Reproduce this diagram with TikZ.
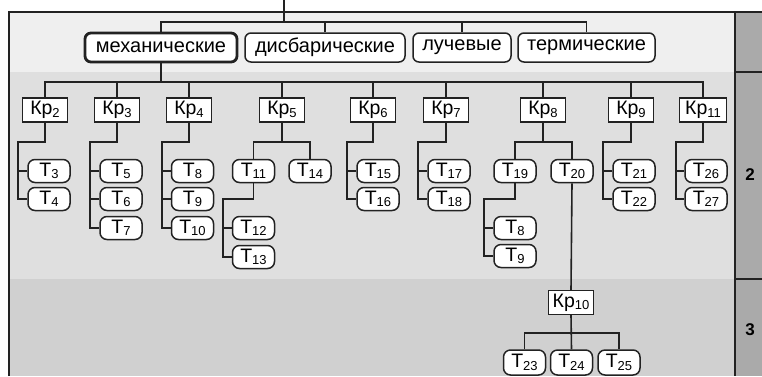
\documentclass[tikz,border=0pt]{standalone}
\usepackage{fontspec}
\setmainfont{Liberation Sans}
\usetikzlibrary{calc}
\newcommand\subs[1]{\raisebox{-2.5pt}{\fontsize{13}{13}\selectfont #1}}
\definecolor{bandA}{HTML}{EFEFEF}
\definecolor{bandB}{HTML}{DFDFDF}
\definecolor{bandC}{HTML}{D0D0D0}
\definecolor{colR}{HTML}{AAAAAA}
\definecolor{ink}{HTML}{222222}
\tikzset{
  cat/.style={draw=ink, rounded corners=6pt, fill=white, line width=1.5pt, minimum height=29pt, inner xsep=2pt, inner ysep=1pt, font=\fontsize{20}{22}\selectfont},
  kp/.style={draw=ink, fill=white, line width=1.3pt, minimum height=24pt, minimum width=45pt, inner sep=1pt, font=\fontsize{19.5}{21}\selectfont},
  tn/.style={draw=ink, fill=white, rounded corners=7pt, line width=1.5pt, minimum height=23pt, minimum width=42pt, inner sep=1pt, font=\fontsize{19.5}{21}\selectfont},
  con/.style={line width=1.6pt, draw=ink},
  frame/.style={line width=1.6pt, draw=ink},
  lvl/.style={font=\fontsize{17}{19}\selectfont\bfseries},
}
\begin{document}
\begin{tikzpicture}[x=1pt,y=-1pt]
\useasboundingbox (0,0) rectangle (762,376);
% background bands
\fill[bandA] (9,12) rectangle (735,72);
\fill[bandB] (9,72) rectangle (735,279);
\fill[bandC] (9,279) rectangle (735,376);
\fill[colR] (735,12) rectangle (762,376);
\draw[frame] (9,376) -- (9,12) -- (762,12);
\draw[frame] (735,12) -- (735,376);
\draw[frame] (735,72) -- (762,72);
\draw[frame] (735,279) -- (762,279);
\node[lvl] (l2) at (750,175) {2};
\node[lvl] (l3) at (750,330) {3};

% level 1 categories
\node[cat, line width=2.8pt, minimum width=152pt] (mech) at (161,47.5) {механические};
\node[cat, minimum width=160pt] (disb) at (325,47.5) {дисбарические};
\node[cat, minimum width=98pt] (luch) at (462,47.5) {лучевые};
\node[cat, minimum width=137pt] (term) at (586.5,47.5) {термические};

% Kp nodes
\node[kp] (kp2) at (45,110) {Кр\subs{2}};
\node[kp] (kp3) at (117,110) {Кр\subs{3}};
\node[kp] (kp4) at (189,110) {Кр\subs{4}};
\node[kp] (kp5) at (282,110) {Кр\subs{5}};
\node[kp] (kp6) at (373,110) {Кр\subs{6}};
\node[kp] (kp7) at (446,110) {Кр\subs{7}};
\node[kp] (kp8) at (543,110) {Кр\subs{8}};
\node[kp] (kp9) at (631,110) {Кр\subs{9}};
\node[kp, minimum width=47pt] (kp11) at (703,110) {Кр\subs{11}};
\node[kp] (kp10) at (571,302.5) {Кр\subs{10}};

% T nodes
\node[tn] (t3) at (49,171) {Т\subs{3}};
\node[tn] (t4) at (49,199) {Т\subs{4}};
\node[tn] (t5) at (121,171) {Т\subs{5}};
\node[tn] (t6) at (121,199) {Т\subs{6}};
\node[tn] (t7) at (121,228) {Т\subs{7}};
\node[tn] (t8a) at (192.5,171) {Т\subs{8}};
\node[tn] (t9a) at (192.5,199) {Т\subs{9}};
\node[tn] (t10) at (192.5,228) {Т\subs{10}};
\node[tn] (t11) at (253.5,171) {Т\subs{11}};
\node[tn] (t14) at (310,171) {Т\subs{14}};
\node[tn] (t12) at (253.5,228) {Т\subs{12}};
\node[tn] (t13) at (253.5,257) {Т\subs{13}};
\node[tn] (t15) at (378,171) {Т\subs{15}};
\node[tn] (t16) at (378,199) {Т\subs{16}};
\node[tn] (t17) at (449,171) {Т\subs{17}};
\node[tn] (t18) at (449,199) {Т\subs{18}};
\node[tn] (t19) at (515,171) {Т\subs{19}};
\node[tn] (t20) at (572,171) {Т\subs{20}};
\node[tn] (t8b) at (515,228) {Т\subs{8}};
\node[tn] (t9b) at (515,256) {Т\subs{9}};
\node[tn] (t21) at (634,171) {Т\subs{21}};
\node[tn] (t22) at (634,199) {Т\subs{22}};
\node[tn] (t26) at (706,171) {Т\subs{26}};
\node[tn] (t27) at (706,199) {Т\subs{27}};
\node[tn, minimum height=25pt] (t23) at (524.5,362.5) {Т\subs{23}};
\node[tn, minimum height=25pt] (t24) at (571.5,362.5) {Т\subs{24}};
\node[tn, minimum height=25pt] (t25) at (619,362.5) {Т\subs{25}};

% connectors level 0 -> 1
\coordinate (top) at (284,0);
\coordinate (b1) at (284,22);
\draw[con] (top) -- (b1);
\draw[con] (mech.north) |- (b1) -| (term.north);
\draw[con] (disb.north) -- (disb.north |- b1);
\draw[con] (luch.north) -- (luch.north |- b1);

% level 1 -> Kp
\coordinate (b2) at (161,82);
\draw[con] (mech.south) -- (b2);
\draw[con] (kp2.north) |- (b2) -| (kp11.north);
\foreach \k in {kp3,kp4,kp5,kp6,kp7,kp8,kp9}
  \draw[con] (\k.north) -- (\k.north |- b2);

% Kp -> T rails
\coordinate (r2) at (18,142);
\draw[con] (kp2.south) |- (r2) |- (t4.west);
\draw[con] (r2 |- t3.west) -- (t3.west);

\coordinate (r3) at (90,142);
\draw[con] (kp3.south) |- (r3) |- (t7.west);
\draw[con] (r3 |- t5.west) -- (t5.west);
\draw[con] (r3 |- t6.west) -- (t6.west);

\coordinate (r4) at (162,142);
\draw[con] (kp4.south) |- (r4) |- (t10.west);
\draw[con] (r4 |- t8a.west) -- (t8a.west);
\draw[con] (r4 |- t9a.west) -- (t9a.west);

\coordinate (r5) at (282,142);
\draw[con] (kp5.south) -- (r5);
\draw[con] (t11.north) |- (r5) -| (t14.north);
\coordinate (r11) at (223,199);
\draw[con] (t11.south) |- (r11) |- (t13.west);
\draw[con] (r11 |- t12.west) -- (t12.west);

\coordinate (r6) at (347,142);
\draw[con] (kp6.south) |- (r6) |- (t16.west);
\draw[con] (r6 |- t15.west) -- (t15.west);

\coordinate (r7) at (418,142);
\draw[con] (kp7.south) |- (r7) |- (t18.west);
\draw[con] (r7 |- t17.west) -- (t17.west);

\coordinate (r8) at (543,142);
\draw[con] (kp8.south) -- (r8);
\draw[con] (t19.north) |- (r8) -| (t20.north);
\coordinate (r19) at (484,199);
\draw[con] (t19.south) |- (r19) |- (t9b.west);
\draw[con] (r19 |- t8b.west) -- (t8b.west);

\coordinate (r9) at (603,142);
\draw[con] (kp9.south) |- (r9) |- (t22.west);
\draw[con] (r9 |- t21.west) -- (t21.west);

\coordinate (r11b) at (676,142);
\draw[con] (kp11.south) |- (r11b) |- (t27.west);
\draw[con] (r11b |- t26.west) -- (t26.west);

% T20 -> Kp10 -> T23..T25
\draw[con] (t20.south) -- (kp10.north);
\coordinate (r10) at (571,333);
\draw[con] (kp10.south) -- (t24.north);
\draw[con] (t23.north) |- (r10) -| (t25.north);
\end{tikzpicture}
\end{document}
